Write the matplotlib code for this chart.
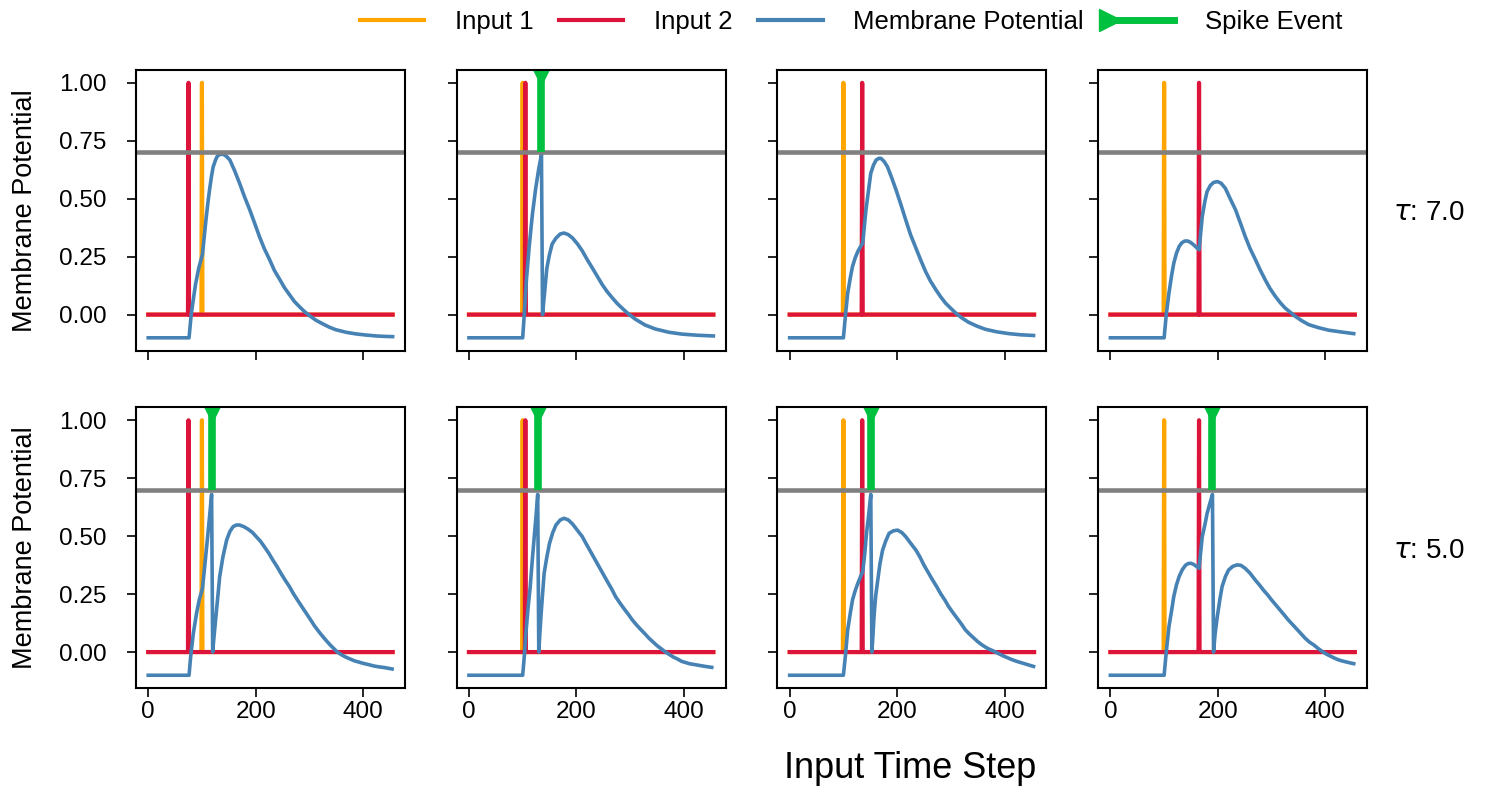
import numpy as np
import matplotlib
matplotlib.use("Agg")
import matplotlib.pyplot as plt
from matplotlib.lines import Line2D
from matplotlib.ticker import FormatStrFormatter
from matplotlib.legend_handler import HandlerLine2D

plt.rcParams['font.family'] = ['Liberation Sans', 'DejaVu Sans']

# START: data
taus = [7.0, 5.0]
n_steps = 456
threshold = 0.7
input1_times = [100, 100, 100, 100]
input2_times = [75, 105, 135, 165]
# spike times per panel (row 0 = tau 7, row 1 = tau 5)
spike_times = [[None, 135, None, None],
               [118, 128, 152, 190]]

# membrane potential, top row (tau 7.0)
mem_t_top = [
    [0, 76, 78, 80, 83, 88, 94, 101, 104, 108, 112, 115, 118, 121, 125, 128, 132, 137, 141, 146, 152,
     161, 170, 179, 189, 198, 207, 216, 226, 235, 245, 254, 263, 272, 282, 291, 300, 312, 325, 337,
     349, 368, 386, 405, 424, 440, 455],
    [0, 100, 103, 107, 112, 118, 124, 130, 135, 137, 141, 145, 150, 155, 162, 170, 177, 185, 193,
     202, 211, 220, 230, 239, 248, 257, 267, 276, 285, 297, 310, 328, 347, 372, 396, 425, 455],
    [0, 100, 104, 108, 113, 117, 122, 127, 131, 136, 139, 142, 147, 151, 156, 161, 166, 170, 176,
     182, 190, 198, 207, 216, 225, 235, 244, 253, 262, 272, 281, 290, 300, 309, 321, 333, 349, 364,
     385, 408, 430, 454],
    [0, 100, 104, 109, 114, 118, 123, 128, 133, 138, 143, 149, 155, 160, 165, 168, 171, 176, 180,
     186, 192, 199, 206, 214, 223, 233, 242, 251, 260, 270, 279, 288, 297, 307, 316, 325, 335, 344,
     356, 369, 387, 406, 430, 453],
]
mem_v_top = [
    [-0.1, -0.1, -0.05, 0.0, 0.05, 0.13, 0.2, 0.26, 0.33, 0.42, 0.5, 0.552, 0.6, 0.638, 0.665, 0.681,
     0.69, 0.692, 0.69, 0.682, 0.667, 0.62, 0.567, 0.51, 0.452, 0.395, 0.337, 0.285, 0.237, 0.19,
     0.151, 0.115, 0.086, 0.057, 0.033, 0.013, -0.004, -0.024, -0.04, -0.054, -0.065, -0.076, -0.083,
     -0.088, -0.092, -0.094, -0.095],
    [-0.1, -0.1, 0.0, 0.15, 0.29, 0.43, 0.54, 0.63, 0.69, 0.0, 0.1, 0.2, 0.26, 0.305, 0.33, 0.348,
     0.352, 0.345, 0.33, 0.305, 0.275, 0.238, 0.2, 0.165, 0.13, 0.1, 0.072, 0.048, 0.028, 0.003,
     -0.02, -0.045, -0.062, -0.076, -0.084, -0.089, -0.092],
    [-0.1, -0.1, 0.0, 0.093, 0.16, 0.208, 0.245, 0.273, 0.29, 0.308, 0.38, 0.452, 0.54, 0.61, 0.645,
     0.667, 0.674, 0.674, 0.66, 0.638, 0.59, 0.538, 0.475, 0.409, 0.345, 0.287, 0.235, 0.186, 0.145,
     0.108, 0.077, 0.05, 0.027, 0.007, -0.015, -0.033, -0.05, -0.063, -0.074, -0.082, -0.087, -0.09],
    [-0.1, -0.1, 0.0, 0.093, 0.17, 0.222, 0.265, 0.294, 0.31, 0.317, 0.318, 0.312, 0.301, 0.29, 0.28,
     0.35, 0.423, 0.49, 0.531, 0.557, 0.57, 0.574, 0.567, 0.545, 0.5, 0.452, 0.395, 0.337, 0.285,
     0.237, 0.192, 0.151, 0.113, 0.079, 0.052, 0.029, 0.01, -0.007, -0.026, -0.043, -0.056, -0.067,
     -0.075, -0.082],
]

# membrane potential, bottom row (tau 5.0)
mem_t_bot = [
    [0, 76, 79, 84, 90, 95, 101, 106, 110, 114, 118, 120, 123, 126, 130, 133, 139, 146, 152, 158,
     164, 170, 178, 186, 194, 201, 209, 216, 224, 232, 240, 247, 255, 263, 270, 278, 286, 294, 302,
     309, 317, 325, 332, 339, 346, 352, 360, 368, 376, 384, 392, 399, 410, 420, 430, 440, 454],
    [0, 100, 103, 106, 110, 114, 118, 122, 125, 128, 130, 132, 134, 137, 140, 145, 150, 156, 162,
     170, 177, 185, 193, 202, 211, 218, 226, 234, 242, 250, 258, 266, 273, 281, 289, 297, 304, 312,
     320, 328, 335, 343, 350, 358, 366, 374, 381, 389, 396, 410, 425, 440, 452],
    [0, 100, 104, 108, 113, 117, 122, 127, 131, 136, 140, 143, 147, 151, 153, 155, 157, 160, 164,
     168, 173, 179, 185, 193, 201, 209, 216, 225, 235, 243, 250, 258, 266, 274, 281, 289, 296, 304,
     312, 320, 327, 335, 343, 350, 358, 364, 370, 377, 383, 390, 398, 406, 414, 424, 434, 444, 454],
    [0, 100, 104, 109, 114, 118, 123, 128, 134, 140, 145, 150, 155, 160, 165, 168, 171, 176, 180,
     185, 190, 192, 195, 199, 204, 208, 214, 220, 228, 236, 243, 251, 260, 265, 270, 278, 285, 293,
     300, 308, 316, 324, 331, 339, 347, 355, 362, 370, 379, 387, 396, 403, 410, 417, 424, 431, 438,
     445, 453],
]
mem_v_bot = [
    [-0.1, -0.1, -0.02, 0.081, 0.168, 0.225, 0.275, 0.39, 0.483, 0.58, 0.68, 0.0, 0.08, 0.153, 0.25,
     0.325, 0.41, 0.483, 0.52, 0.541, 0.548, 0.548, 0.541, 0.53, 0.516, 0.498, 0.478, 0.455, 0.428,
     0.397, 0.368, 0.34, 0.31, 0.282, 0.253, 0.224, 0.196, 0.168, 0.14, 0.115, 0.09, 0.067, 0.048,
     0.03, 0.014, 0.0, -0.012, -0.022, -0.03, -0.038, -0.043, -0.048, -0.054, -0.06, -0.064, -0.067,
     -0.073],
    [-0.1, -0.1, -0.02, 0.08, 0.19, 0.28, 0.4, 0.51, 0.59, 0.68, 0.0, 0.08, 0.153, 0.25, 0.34, 0.41,
     0.469, 0.515, 0.548, 0.57, 0.577, 0.57, 0.552, 0.525, 0.498, 0.468, 0.435, 0.402, 0.369, 0.336,
     0.303, 0.271, 0.239, 0.212, 0.186, 0.162, 0.139, 0.117, 0.097, 0.078, 0.06, 0.043, 0.028, 0.014,
     0.0, -0.012, -0.022, -0.031, -0.04, -0.05, -0.056, -0.062, -0.066],
    [-0.1, -0.1, -0.01, 0.096, 0.17, 0.225, 0.265, 0.297, 0.32, 0.347, 0.43, 0.512, 0.59, 0.68, 0.0,
     0.07, 0.153, 0.24, 0.311, 0.38, 0.44, 0.48, 0.512, 0.523, 0.526, 0.515, 0.498, 0.47, 0.44, 0.408,
     0.375, 0.343, 0.311, 0.281, 0.252, 0.224, 0.196, 0.17, 0.145, 0.12, 0.096, 0.077, 0.06, 0.045,
     0.031, 0.022, 0.014, 0.007, 0.0, -0.008, -0.017, -0.025, -0.033, -0.041, -0.048, -0.055, -0.062],
    [-0.1, -0.1, 0.0, 0.11, 0.18, 0.24, 0.29, 0.326, 0.356, 0.375, 0.382, 0.383, 0.378, 0.37, 0.361,
     0.43, 0.498, 0.55, 0.598, 0.64, 0.68, 0.0, 0.08, 0.153, 0.23, 0.283, 0.325, 0.354, 0.37, 0.376,
     0.374, 0.361, 0.34, 0.325, 0.31, 0.288, 0.267, 0.246, 0.225, 0.203, 0.181, 0.159, 0.139, 0.119,
     0.099, 0.079, 0.061, 0.044, 0.03, 0.015, 0.0, -0.01, -0.018, -0.026, -0.033, -0.038, -0.042,
     -0.046, -0.05],
]
# END: data

mem_t = [mem_t_top, mem_t_bot]
mem_v = [mem_v_top, mem_v_bot]

c_in1 = '#FFA500'
c_in2 = '#DC143C'
c_mem = '#4682B4'
c_spk = '#00C040'
c_thr = '#808080'


# legend handle with the triangle sitting at the left end of the line
class LeftMarkerHandler(HandlerLine2D):
    def create_artists(self, *args, **kwargs):
        arts = super().create_artists(*args, **kwargs)
        for a in arts:
            a.set_markevery([0])
        return arts


steps = np.arange(n_steps)

fig, axes = plt.subplots(2, 4, sharex=True, sharey=True, figsize=(14.88, 7.87), dpi=100)
fig.subplots_adjust(left=0.0914, right=0.9187, top=0.911, bottom=0.1258, wspace=0.193, hspace=0.203)

for r in range(2):
    for c in range(4):
        ax = axes[r, c]
        in1 = np.zeros(n_steps)
        in1[input1_times[c]] = 1.0
        in2 = np.zeros(n_steps)
        in2[input2_times[c]] = 1.0
        ax.plot(steps, in1, color=c_in1, lw=3)
        ax.plot(steps, in2, color=c_in2, lw=3)
        ax.plot(mem_t[r][c], mem_v[r][c], color=c_mem, lw=2.6)
        ax.axhline(threshold, color=c_thr, lw=3.3)
        ts = spike_times[r][c]
        if ts is not None:
            ax.plot([ts, ts], [threshold, 1.06], color=c_spk, lw=5.5, solid_capstyle='butt')
            ax.plot([ts], [1.035], marker='v', color=c_spk, markersize=15)
        ax.set_ylim(-0.155, 1.055)
        ax.set_xticks([0, 200, 400])
        ax.set_yticks([0.0, 0.25, 0.5, 0.75, 1.0])
        ax.tick_params(axis='both', direction='out', length=6.5, width=1.2, labelsize=17.5)
        ax.tick_params(axis='y', pad=15)
        ax.tick_params(axis='x', pad=3)
        for sp in ax.spines.values():
            sp.set_linewidth(1.5)
    axes[r, 0].set_ylabel('Membrane Potential', fontsize=19.5)
    axes[r, 0].yaxis.set_label_coords(-0.364, 0.5)
    pos = axes[r, 3].get_position()
    fig.text(0.936, (pos.y0 + pos.y1) / 2 - 0.004, r'$\tau$: ' + str(taus[r]), fontsize=20,
             va='center', ha='left')

axes[0, 0].yaxis.set_major_formatter(FormatStrFormatter('%.2f'))

fig.text(910 / 1488, 1 - 768 / 787, 'Input Time Step', fontsize=26, ha='center', va='center')

spike_handle = Line2D([0], [0], color=c_spk, lw=5, marker='>', markersize=16)
handles = [
    Line2D([0], [0], color=c_in1, lw=3),
    Line2D([0], [0], color=c_in2, lw=3),
    Line2D([0], [0], color=c_mem, lw=3),
    spike_handle,
]
labels = ['Input 1', 'Input 2', 'Membrane Potential', 'Spike Event']
fig.legend(handles, labels, loc='center', bbox_to_anchor=(851 / 1488, 1 - 22 / 787), ncol=4,
           frameon=False, fontsize=18.5, handlelength=2.5, handletextpad=1.2, columnspacing=1.0,
           handler_map={spike_handle: LeftMarkerHandler()})

fig.savefig('out.png', dpi=100)
